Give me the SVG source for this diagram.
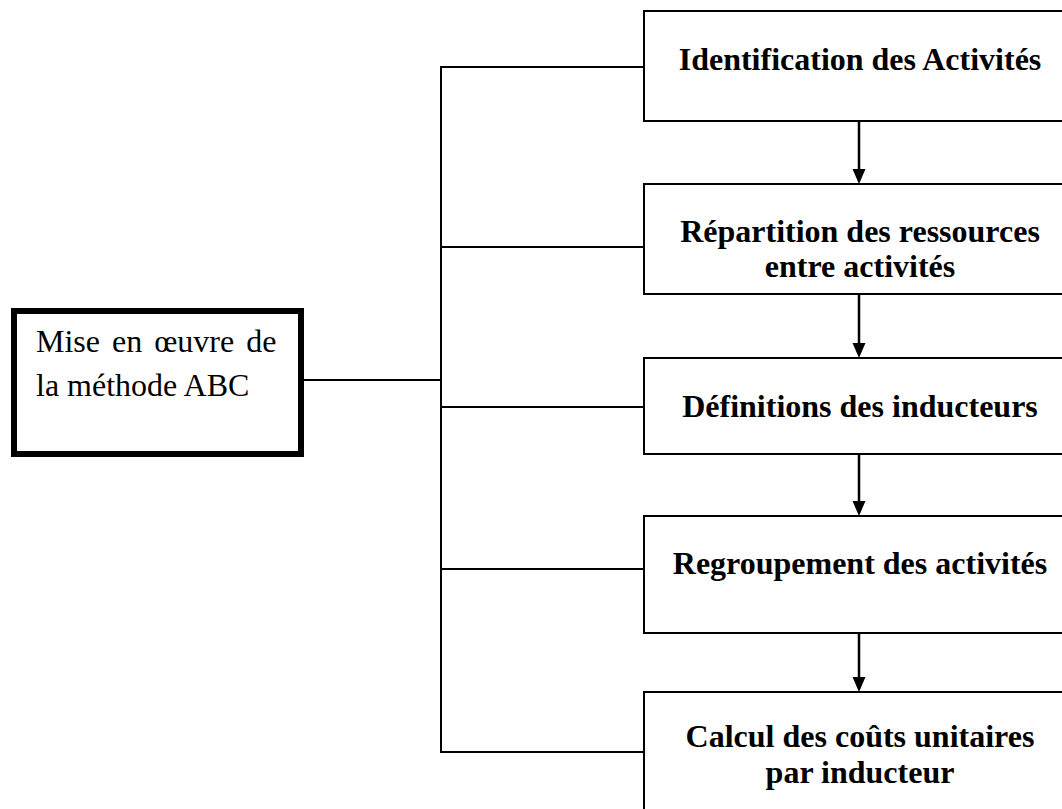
<svg xmlns="http://www.w3.org/2000/svg" width="1062" height="809" viewBox="0 0 1062 809">
  <defs>
    <style>
      .step { fill: #fff; stroke: #000; stroke-width: 2; }
      .root { fill: #fff; stroke: #000; stroke-width: 6; }
      .bold { font-family: "Liberation Serif", "Times New Roman", serif; font-weight: bold; font-size: 32px; fill: #000; text-anchor: middle; }
      .reg { font-family: "Liberation Serif", "Times New Roman", serif; font-size: 32px; fill: #000; }
      .wire { fill: none; stroke: #000; stroke-width: 2; }
      .flow { fill: none; stroke: #000; stroke-width: 2.5; }
      .head { fill: #000; }
    </style>
  </defs>
  <rect width="1062" height="809" fill="#fff"/>

  <!-- connectors: bus from the root box to each step, and the step sequence -->
  <g id="connectors">
    <line class="wire" x1="304" y1="380" x2="441" y2="380"/>
    <line class="wire" x1="441" y1="67" x2="441" y2="752"/>
    <line class="wire" x1="440" y1="67" x2="644" y2="67"/>
    <line class="wire" x1="440" y1="247" x2="644" y2="247"/>
    <line class="wire" x1="440" y1="407" x2="644" y2="407"/>
    <line class="wire" x1="440" y1="569" x2="644" y2="569"/>
    <line class="wire" x1="440" y1="752" x2="644" y2="752"/>
    <path class="flow" d="M859,122 V171"/>
    <path class="head" d="M852.5,169 L865.5,169 L859,184 Z"/>
    <path class="flow" d="M859,295 V345"/>
    <path class="head" d="M852.5,343 L865.5,343 L859,358 Z"/>
    <path class="flow" d="M859,455 V503"/>
    <path class="head" d="M852.5,501 L865.5,501 L859,516 Z"/>
    <path class="flow" d="M859,634 V679"/>
    <path class="head" d="M852.5,677 L865.5,677 L859,692 Z"/>
  </g>

  <g id="root">
    <rect class="root" x="14" y="311" width="287" height="143"/>
    <text class="reg" x="36" y="352" word-spacing="4">Mise en œuvre de</text>
    <text class="reg" x="36" y="396">la méthode ABC</text>
  </g>

  <g id="step1">
    <rect class="step" x="644" y="11" width="440" height="110"/>
    <text class="bold" x="860" y="70">Identification des Activités</text>
  </g>

  <g id="step2">
    <rect class="step" x="644" y="184" width="440" height="110"/>
    <text class="bold" x="860" y="242">Répartition des ressources</text>
    <text class="bold" x="860" y="277">entre activités</text>
  </g>

  <g id="step3">
    <rect class="step" x="644" y="358" width="440" height="96"/>
    <text class="bold" x="860" y="417">Définitions des inducteurs</text>
  </g>

  <g id="step4">
    <rect class="step" x="644" y="516" width="440" height="117"/>
    <text class="bold" x="860" y="574">Regroupement des activités</text>
  </g>

  <g id="step5">
    <rect class="step" x="644" y="692" width="440" height="140"/>
    <text class="bold" x="860" y="747">Calcul des coûts unitaires</text>
    <text class="bold" x="860" y="783">par inducteur</text>
  </g>
</svg>
